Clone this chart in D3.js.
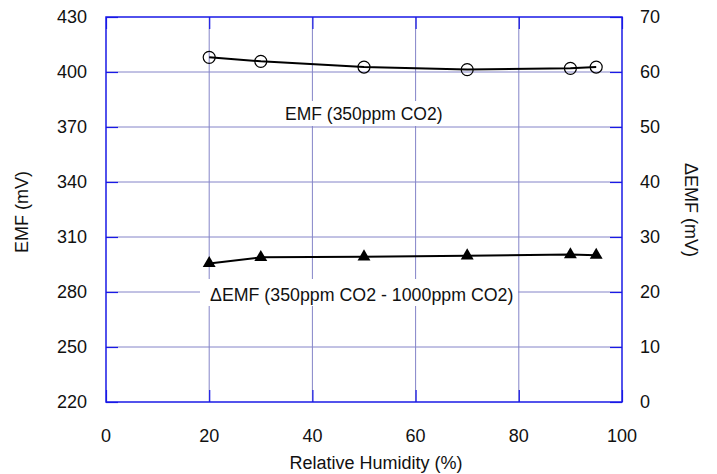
<!DOCTYPE html>
<html>
<head>
<meta charset="utf-8">
<script src="https://cdn.jsdelivr.net/npm/d3@7"></script>
<style>
  body { margin: 0; background: #fff; }
  text { font-family: "Liberation Sans", Arial, sans-serif; fill: #111; }
</style>
</head>
<body>
<svg id="chart" width="717" height="474"></svg>
<script>
const humidity = [20, 30, 50, 70, 90, 95]
const emf = [408, 405.8, 402.7, 401.3, 402, 402.7]
const deltaEmf = [25.2, 26.3, 26.4, 26.6, 26.8, 26.7]

const xTicks = [0, 20, 40, 60, 80, 100]
const leftTicks = [220, 250, 280, 310, 340, 370, 400, 430]
const rightTicks = [0, 10, 20, 30, 40, 50, 60, 70]

const m = { left: 106, right: 622, top: 17, bottom: 402 }
const svg = d3.select("#chart")

let x = d3.scaleLinear().domain([0, 100]).range([m.left, m.right])
let yL = d3.scaleLinear().domain([220, 430]).range([m.bottom, m.top])
let yR = d3.scaleLinear().domain([0, 70]).range([m.bottom, m.top])

const gridColor = "#8484c8"
const axisColor = "#1a1ae6"
const fs = 18

// grid
let grid = svg.append("g")
grid.selectAll("line.v")
    .data(xTicks.slice(1, -1))
    .enter().append("line")
    .attr("x1", d => x(d)).attr("x2", d => x(d))
    .attr("y1", m.top).attr("y2", m.bottom)
    .attr("stroke", gridColor).attr("stroke-width", 1)
grid.selectAll("line.h")
    .data(leftTicks.slice(1, -1))
    .enter().append("line")
    .attr("x1", m.left).attr("x2", m.right)
    .attr("y1", d => yL(d)).attr("y2", d => yL(d))
    .attr("stroke", gridColor).attr("stroke-width", 1)

// inward ticks with d3 axes
function styleAxis(g) {
    g.select(".domain").remove()
    g.selectAll(".tick line").attr("stroke", axisColor).attr("stroke-width", 1.2)
    g.selectAll(".tick text").remove()
}
svg.append("g").attr("transform", `translate(0,${m.bottom})`)
    .call(d3.axisTop(x).tickValues(xTicks).tickSize(12)).call(styleAxis)
svg.append("g").attr("transform", `translate(0,${m.top})`)
    .call(d3.axisBottom(x).tickValues(xTicks).tickSize(12)).call(styleAxis)
svg.append("g").attr("transform", `translate(${m.left},0)`)
    .call(d3.axisRight(yL).tickValues(leftTicks).tickSize(12)).call(styleAxis)
svg.append("g").attr("transform", `translate(${m.right},0)`)
    .call(d3.axisLeft(yR).tickValues(rightTicks).tickSize(12)).call(styleAxis)

// label backgrounds
svg.append("rect").attr("x", 278).attr("y", 101).attr("width", 172).attr("height", 25).attr("fill", "#fff")
svg.append("rect").attr("x", 200).attr("y", 279).attr("width", 318).attr("height", 27).attr("fill", "#fff")

// frame
svg.append("rect")
    .attr("x", m.left).attr("y", m.top)
    .attr("width", m.right - m.left).attr("height", m.bottom - m.top)
    .attr("fill", "none").attr("stroke", axisColor).attr("stroke-width", 1.5)

// tick labels
svg.selectAll("text.xl").data(xTicks).enter().append("text")
    .attr("x", d => x(d)).attr("y", 442)
    .attr("text-anchor", "middle").style("font-size", fs + "px")
    .text(d => d)
svg.selectAll("text.yl").data(leftTicks).enter().append("text")
    .attr("x", 87).attr("y", d => yL(d)).attr("dy", "0.35em")
    .attr("text-anchor", "end").style("font-size", fs + "px")
    .text(d => d)
svg.selectAll("text.yr").data(rightTicks).enter().append("text")
    .attr("x", 640).attr("y", d => yR(d)).attr("dy", "0.35em")
    .attr("text-anchor", "start").style("font-size", fs + "px")
    .text(d => d)

// axis titles
svg.append("text").attr("x", 376).attr("y", 469)
    .attr("text-anchor", "middle").style("font-size", fs + "px")
    .text("Relative Humidity (%)")
svg.append("text")
    .attr("transform", "translate(28,212)rotate(-90)")
    .attr("text-anchor", "middle").style("font-size", fs + "px")
    .text("EMF (mV)")
svg.append("text")
    .attr("transform", "translate(685,210)rotate(90)")
    .attr("text-anchor", "middle").style("font-size", fs + "px")
    .text("ΔEMF (mV)")

// series
let emfPts = humidity.map((h, i) => [h, emf[i]])
let dPts = humidity.map((h, i) => [h, deltaEmf[i]])

let lineL = d3.line().x(d => x(d[0])).y(d => yL(d[1]))
let lineR = d3.line().x(d => x(d[0])).y(d => yR(d[1]))

svg.append("path").attr("d", lineL(emfPts))
    .attr("fill", "none").attr("stroke", "#000").attr("stroke-width", 2)
svg.selectAll("circle.emf").data(emfPts).enter().append("circle")
    .attr("cx", d => x(d[0])).attr("cy", d => yL(d[1])).attr("r", 6)
    .attr("fill", "none").attr("stroke", "#000").attr("stroke-width", 1.2)

svg.append("path").attr("d", lineR(dPts))
    .attr("fill", "none").attr("stroke", "#000").attr("stroke-width", 2)
let tri = d3.symbol().type(d3.symbolTriangle).size(72)
svg.selectAll("path.tri").data(dPts).enter().append("path")
    .attr("d", tri)
    .attr("transform", d => `translate(${x(d[0])},${yR(d[1])})`)
    .attr("fill", "#000")

// annotations
svg.append("text").attr("x", 285).attr("y", 120)
    .style("font-size", "17.5px").text("EMF (350ppm CO2)")
svg.append("text").attr("x", 210).attr("y", 301)
    .style("font-size", "17.8px").text("ΔEMF (350ppm CO2 - 1000ppm CO2)")
</script>
</body>
</html>
